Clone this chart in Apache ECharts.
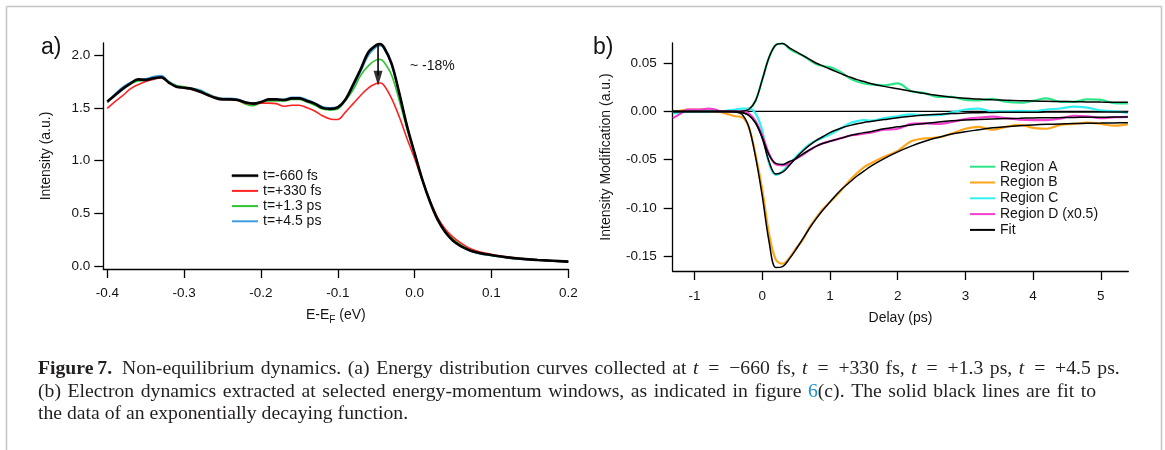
<!DOCTYPE html>
<html><head><meta charset="utf-8">
<script src="https://cdn.jsdelivr.net/npm/echarts@6/dist/echarts.min.js"></script>
<style>html,body{margin:0;padding:0;background:#fff}#c{width:1165px;height:450px}</style>
</head><body><div id="c"></div>
<script>
// ---------- Panel a: energy distribution curves ----------
const energy = [-0.40,-0.39,-0.38,-0.37,-0.36,-0.35,-0.34,-0.33,-0.32,-0.31,
  -0.30,-0.29,-0.28,-0.27,-0.26,-0.25,-0.24,-0.23,-0.22,-0.21,
  -0.20,-0.19,-0.18,-0.17,-0.16,-0.15,-0.14,-0.13,-0.12,-0.11,
  -0.10,-0.09,-0.08,-0.07,-0.06,-0.05,-0.045,
  -0.04,-0.03,-0.02,-0.01,0.00,0.01,0.02,0.03,0.04,0.05,0.06,0.07,0.08,0.09,0.10,
  0.12,0.14,0.16,0.18,0.20];
const edcM660 = [1.56,1.62,1.68,1.73,1.77,1.765,1.78,1.79,1.74,1.70,
  1.69,1.68,1.655,1.625,1.595,1.58,1.58,1.575,1.55,1.54,
  1.555,1.58,1.58,1.575,1.59,1.59,1.565,1.54,1.50,1.49,
  1.505,1.58,1.72,1.87,2.03,2.095,2.105,
  2.075,1.92,1.64,1.33,1.07,0.82,0.61,0.44,0.32,0.24,0.19,0.155,0.13,0.115,0.105,
  0.082,0.068,0.058,0.05,0.042];
const edcP330 = [1.495,1.56,1.615,1.68,1.72,1.75,1.77,1.785,1.74,1.70,
  1.69,1.675,1.65,1.625,1.60,1.585,1.58,1.57,1.545,1.54,
  1.545,1.545,1.54,1.515,1.525,1.525,1.50,1.47,1.425,1.395,
  1.39,1.46,1.54,1.62,1.69,1.73,1.735,
  1.715,1.59,1.415,1.21,1.02,0.81,0.62,0.46,0.35,0.275,0.22,0.175,0.145,0.125,0.11,
  0.088,0.07,0.058,0.05,0.042];
const edcP1p3 = [1.555,1.62,1.68,1.725,1.755,1.76,1.775,1.785,1.745,1.71,
  1.70,1.68,1.66,1.63,1.60,1.585,1.58,1.57,1.535,1.52,
  1.55,1.565,1.565,1.565,1.58,1.58,1.555,1.525,1.49,1.48,
  1.49,1.57,1.67,1.81,1.90,1.955,1.96,
  1.935,1.81,1.57,1.30,1.05,0.82,0.62,0.45,0.335,0.255,0.20,0.16,0.13,0.115,0.10,
  0.085,0.07,0.058,0.05,0.042];
const edcP4p5 = [1.55,1.63,1.695,1.74,1.765,1.775,1.795,1.805,1.75,1.71,
  1.695,1.685,1.67,1.635,1.605,1.59,1.59,1.58,1.555,1.545,
  1.555,1.575,1.58,1.58,1.60,1.60,1.575,1.545,1.51,1.50,
  1.51,1.57,1.70,1.85,2.00,2.08,2.09,
  2.065,1.91,1.63,1.33,1.07,0.82,0.61,0.44,0.325,0.24,0.19,0.15,0.125,0.11,0.10,
  0.08,0.066,0.056,0.048,0.04];
const namesA = ['t=-660 fs','t=+330 fs','t=+1.3 ps','t=+4.5 ps'];
const xTicksA = [-0.4,-0.3,-0.2,-0.1,0,0.1,0.2];
const yTicksA = [0,0.5,1,1.5,2];
const arrowX = -0.0476, arrowTop = 2.10, arrowTip = 1.71;

// ---------- Panel b: electron dynamics ----------
const delay = [-1.32,-1.2,-1.1,-1.0,-0.9,-0.8,-0.7,-0.6,-0.5,
  -0.4,-0.3,-0.2,-0.1,0,0.1,0.2,0.3,0.4,0.5,0.6,0.7,0.8,0.9,1.0,1.1,1.2,1.3,1.4,1.5,1.6,
  1.8,2.0,2.2,2.4,2.6,2.8,3.0,3.2,3.4,3.6,3.8,4.0,4.2,4.4,4.6,4.8,5.0,5.2,5.4];
const regionA = [0,0,0,0,0,0,0,0,0,
  0,0,0.002,0.011,0.033,0.056,0.069,0.0705,0.065,0.061,0.058,0.053,0.049,0.047,0.046,0.043,0.039,0.034,0.031,0.029,0.028,
  0.027,0.029,0.021,0.019,0.015,0.015,0.012,0.0115,0.013,0.010,0.009,0.011,0.0135,0.010,0.010,0.0125,0.012,0.0085,0.0083];
const fitA = [0,0,0,0,0,0,0,0,0,
  0,0.0003,0.002,0.011,0.033,0.056,0.069,0.0705,0.066,0.062,0.058,0.054,0.050,0.047,0.044,0.041,0.038,0.0355,0.033,0.031,0.029,
  0.026,0.0235,0.021,0.0185,0.0165,0.0148,0.0136,0.0128,0.0121,0.0116,0.0112,0.0108,0.0105,0.0103,0.0101,0.0099,0.0097,0.0096,0.0095];
const regionB = [-0.001,0.001,0.002,0.002,0.002,0.001,0.0,-0.001,-0.003,
  -0.005,-0.006,-0.016,-0.045,-0.081,-0.127,-0.154,-0.158,-0.152,-0.142,-0.133,-0.120,-0.110,-0.101,-0.094,-0.087,-0.079,-0.071,-0.064,-0.058,-0.054,
  -0.047,-0.041,-0.031,-0.028,-0.027,-0.023,-0.018,-0.016,-0.019,-0.016,-0.014,-0.017,-0.018,-0.014,-0.013,-0.0115,-0.013,-0.0148,-0.0135];
const fitB = [0,0,0,0,0,0,0,0,0,
  -0.0005,-0.003,-0.016,-0.047,-0.088,-0.135,-0.162,-0.161,-0.153,-0.143,-0.132,-0.121,-0.111,-0.102,-0.094,-0.086,-0.079,-0.073,-0.067,-0.062,-0.057,
  -0.049,-0.042,-0.036,-0.031,-0.027,-0.0235,-0.021,-0.019,-0.017,-0.0158,-0.0148,-0.014,-0.0134,-0.013,-0.0126,-0.0123,-0.0121,-0.0119,-0.0118];
const regionC = [-0.002,-0.001,0,0,0,0,0.001,0,0.001,
  0.002,0.003,0.003,-0.002,-0.02,-0.054,-0.066,-0.062,-0.054,-0.047,-0.040,-0.034,-0.030,-0.027,-0.024,-0.020,-0.016,-0.012,-0.010,-0.009,-0.0095,
  -0.007,-0.005,-0.003,-0.004,-0.004,-0.001,0.002,0.003,0,0,0.0005,0,0.002,0.003,0.005,0.004,0.001,0,-0.0015];
const fitC = [0,0,0,0,0,0,0,0,0,
  0,-0.001,-0.004,-0.012,-0.028,-0.052,-0.065,-0.063,-0.056,-0.048,-0.041,-0.035,-0.030,-0.026,-0.022,-0.019,-0.0165,-0.0145,-0.0128,-0.0115,-0.0105,
  -0.0085,-0.0065,-0.005,-0.0038,-0.003,-0.0022,-0.0017,-0.0013,-0.001,-0.0009,-0.0008,-0.0008,-0.0007,-0.0007,-0.0006,-0.0006,-0.0006,-0.0005,-0.0005];
const regionD = [-0.007,-0.002,0.002,0.002,0.002,0.003,0.002,0,0,
  0,0,-0.002,-0.010,-0.025,-0.044,-0.055,-0.056,-0.054,-0.049,-0.045,-0.040,-0.036,-0.033,-0.031,-0.029,-0.027,-0.025,-0.024,-0.023,-0.022,
  -0.019,-0.018,-0.013,-0.0125,-0.013,-0.011,-0.008,-0.0065,-0.0055,-0.007,-0.0085,-0.009,-0.009,-0.0075,-0.0045,-0.005,-0.007,-0.006,-0.0056];
const fitD = [0,0,0,0,0,0,0,0,0,
  0,-0.001,-0.004,-0.012,-0.027,-0.045,-0.054,-0.055,-0.052,-0.049,-0.044,-0.040,-0.036,-0.033,-0.031,-0.029,-0.027,-0.025,-0.0235,-0.022,-0.021,
  -0.018,-0.016,-0.014,-0.0125,-0.011,-0.0098,-0.009,-0.0084,-0.0078,-0.0074,-0.0071,-0.0068,-0.0066,-0.0064,-0.0062,-0.0061,-0.006,-0.0059,-0.0058];
const namesB = ['Region A','Region B','Region C','Region D (x0.5)','Fit'];
const xTicksB = [-1,0,1,2,3,4,5];
const yTicksB = [-0.15,-0.10,-0.05,0,0.05];

// ---------- caption ----------
const S = '\u2004', Q = '\u2002';
const captionLines = [
  '{b|Figure\u20097.}  ' + ['Non-equilibrium','dynamics.','(a)','Energy','distribution','curves','collected','at'].join(S) + S +
    ['{i|t}'+Q+'='+Q+'\u2212660'+S+'fs,', '{i|t}'+Q+'='+Q+'+330'+S+'fs,', '{i|t}'+Q+'='+Q+'+1.3'+S+'ps,', '{i|t}'+Q+'='+Q+'+4.5'+S+'ps.'].join(S),
  ['(b)','Electron','dynamics','extracted','at','selected','energy-momentum','windows,','as','indicated','in','figure','{l|6}(c).','The','solid','black','lines','are','fit','to'].join(S),
  'the data of an exponentially decaying function.'
];

// ---------- rendering ----------
const SANS = '"Liberation Sans", Arial, Helvetica, sans-serif';
const SERIF = '"Liberation Serif", "DejaVu Serif", serif';
const INK = '#141414';
const CAP = '#231f20';
const CAPSIZE = 19.7;
const axLine = {color:'#000', width:1.3};
const xMinA = -0.4052, xMaxA = 0.2, yMinA = -0.028, yMaxA = 2.115;
const xMinB = -1.323, xMaxB = 5.406, yMinB = -0.1656, yMaxB = 0.071;

function pairs(xs, ys){ return xs.map((x,i)=>[x, ys[i]]); }
function axis(grid, min, max, ticks, fmt, margin, name, nameGap, vertical){
  return {
    gridIndex:grid, type:'value', min:min, max:max,
    axisLine:{show:true, onZero:false, lineStyle:axLine},
    axisTick:{show:true, inside:false, length:9, customValues:ticks, lineStyle:axLine},
    axisLabel:{customValues:ticks, formatter:fmt, margin:margin, fontSize:13.5, color:INK, fontFamily:SANS},
    splitLine:{show:false},
    name:name, nameLocation:'middle', nameGap:nameGap,
    nameTextStyle:{fontSize:14, color:INK, fontFamily:SANS, lineHeight:vertical?16:20,
      rich:{sub:{fontSize:10, color:INK, fontFamily:SANS, verticalAlign:'bottom'}}}
  };
}
function line(name, xs, ys, color, width, xi, z){
  return {name:name, type:'line', xAxisIndex:xi, yAxisIndex:xi, data:pairs(xs, ys),
    showSymbol:false, symbol:'none', smooth:0.35, z:z,
    lineStyle:{color:color, width:width}, itemStyle:{color:color}};
}
function capText(y, text){
  return {type:'text', x:38, y:y, style:{text:text, fontSize:CAPSIZE, fontFamily:SERIF, fill:CAP, textVerticalAlign:'middle',
    rich:{b:{fontWeight:'bold', fontSize:CAPSIZE, fontFamily:SERIF, fill:CAP},
          i:{fontStyle:'italic', fontSize:CAPSIZE, fontFamily:SERIF, fill:CAP},
          l:{fontSize:CAPSIZE, fontFamily:SERIF, fill:'#1a90d0'}}}};
}

const legendA = namesA.map((n,i)=> i===0 ? {name:n, itemStyle:{borderColor:'#000', borderWidth:0.6}} : {name:n});
const option = {
  animation:false,
  backgroundColor:'#ffffff',
  grid:[
    {left:103.3, top:43, width:465, height:226},
    {left:672.7, top:43, width:455.6, height:228}
  ],
  xAxis:[
    axis(0, xMinA, xMaxA, xTicksA, v=>v.toFixed(1), 17, 'E-E{sub|F} (eV)', 33, false),
    axis(1, xMinB, xMaxB, xTicksB, v=>String(v), 18, 'Delay (ps)', 37, false)
  ],
  yAxis:[
    axis(0, yMinA, yMaxA, yTicksA, v=>v.toFixed(1), 13, 'Intensity (a.u.)', 49, true),
    axis(1, yMinB, yMaxB, yTicksB, v=>v.toFixed(2), 16, 'Intensity Modification (a.u.)', 59, true)
  ],
  legend:[
    {data:legendA, orient:'vertical', left:231.7, top:168.7, padding:0, icon:'rect', itemWidth:26, itemHeight:2, itemGap:1.2,
      textStyle:{fontSize:14, fontFamily:SANS, color:INK}},
    {data:namesB, orient:'vertical', left:970, top:159.7, padding:0, icon:'rect', itemWidth:25, itemHeight:2, itemGap:1.8,
      textStyle:{fontSize:14, fontFamily:SANS, color:INK}}
  ],
  series:[
    line(namesA[3], energy, edcP4p5, '#3d9be0', 1.8, 0, 2),
    line(namesA[2], energy, edcP1p3, '#2fc42f', 1.6, 0, 3),
    line(namesA[1], energy, edcP330, '#ff2222', 1.6, 0, 4),
    line(namesA[0], energy, edcM660, '#000000', 2.6, 0, 5),
    {name:'arrowShaft', type:'line', xAxisIndex:0, yAxisIndex:0, symbol:'none', z:6,
      data:[[arrowX, arrowTop],[arrowX, arrowTip+0.1]], lineStyle:{color:'#000', width:1.6}},
    {name:'arrowHead', type:'scatter', xAxisIndex:0, yAxisIndex:0, z:6,
      symbol:'path://M0,0L10,0L5,18Z', symbolSize:[9,15], symbolOffset:[0,'-50%'],
      itemStyle:{color:'#000'}, data:[[arrowX, arrowTip]]},

    {name:'zero', type:'line', xAxisIndex:1, yAxisIndex:1, symbol:'none', z:1,
      data:[[xMinB,0],[xMaxB,0]], lineStyle:{color:'#000', width:1.2}},
    line(namesB[0], delay, regionA, '#2ee68a', 2.2, 1, 2),
    line(namesB[1], delay, regionB, '#ffa51c', 2.2, 1, 2),
    line(namesB[2], delay, regionC, '#33f0f0', 2.2, 1, 2),
    line(namesB[3], delay, regionD, '#f23fd0', 2.2, 1, 2),
    line(namesB[4], delay, fitA, '#000000', 1.5, 1, 4),
    line(namesB[4], delay, fitB, '#000000', 1.5, 1, 4),
    line(namesB[4], delay, fitC, '#000000', 1.5, 1, 4),
    line(namesB[4], delay, fitD, '#000000', 1.5, 1, 4)
  ],
  graphic:[
    {type:'line', shape:{x1:6.5,y1:6.5,x2:1161.5,y2:6.5}, style:{stroke:'#c4c4c4', lineWidth:1.5}},
    {type:'line', shape:{x1:6.5,y1:6.5,x2:6.5,y2:450}, style:{stroke:'#c4c4c4', lineWidth:1.5}},
    {type:'line', shape:{x1:1161.5,y1:6.5,x2:1161.5,y2:450}, style:{stroke:'#c4c4c4', lineWidth:1.5}},
    {type:'text', x:41, y:48, style:{text:'a)', fontSize:23, fontFamily:SANS, fill:INK, textVerticalAlign:'middle'}},
    {type:'text', x:593, y:48, style:{text:'b)', fontSize:23, fontFamily:SANS, fill:INK, textVerticalAlign:'middle'}},
    {type:'text', x:410, y:66, style:{text:'~ -18%', fontSize:14, fontFamily:SANS, fill:INK, textVerticalAlign:'middle'}},
    capText(369, captionLines[0]),
    capText(391.5, captionLines[1]),
    capText(414, captionLines[2])
  ]
};
const chart = echarts.init(document.getElementById('c'), null, {renderer:'canvas'});
chart.setOption(option);
</script></body></html>
